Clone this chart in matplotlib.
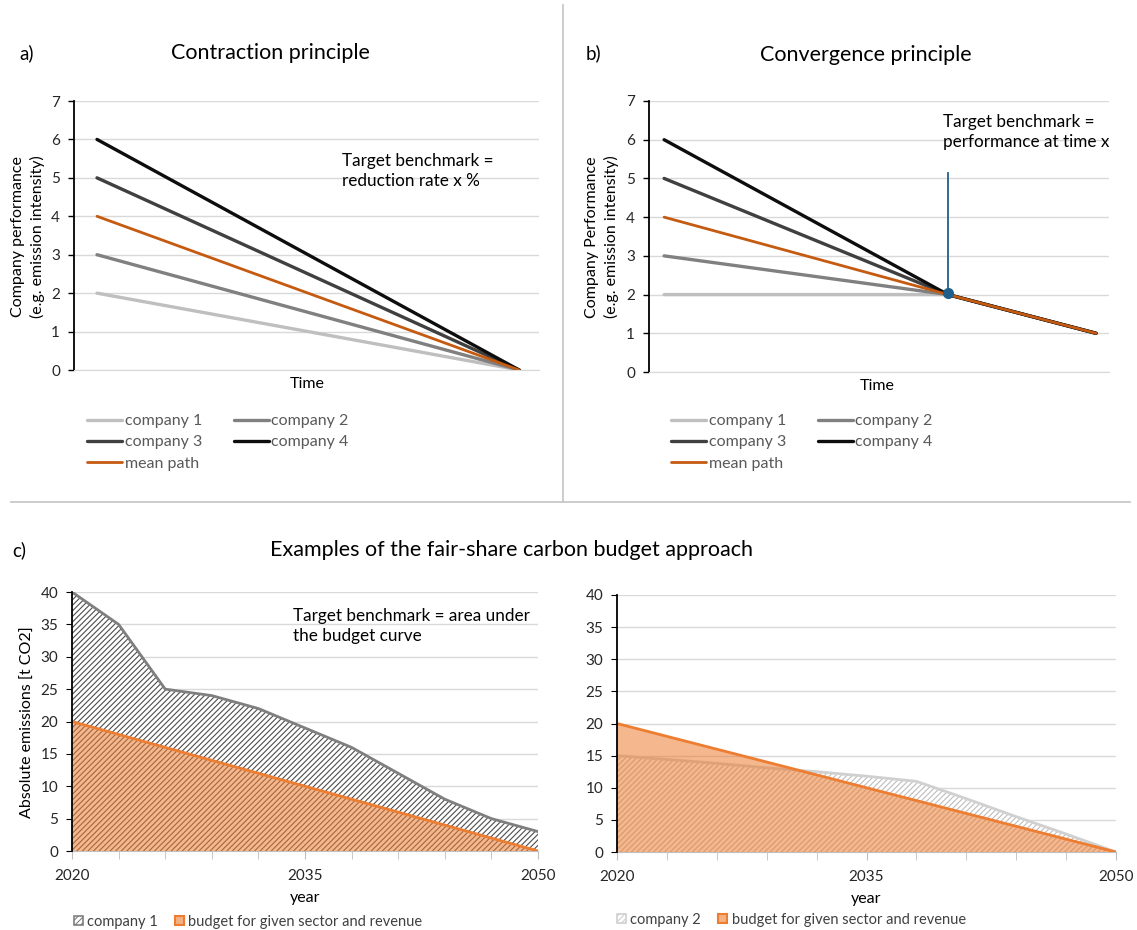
import matplotlib
matplotlib.use('Agg')
import numpy as np
import matplotlib.pyplot as plt
from matplotlib.lines import Line2D
from matplotlib.patches import Patch

plt.rcParams['font.family'] = ['Lato', 'DejaVu Sans']
plt.rcParams['hatch.linewidth'] = 0.8

# a) contraction principle
time_a = [0, 1]
comp1_a = [2, 0]
comp2_a = [3, 0]
comp3_a = [5, 0]
comp4_a = [6, 0]
mean_a = [4, 0]

# b) convergence principle
time_b = [0, 0.657, 1]
comp1_b = [2, 2, 1]
comp2_b = [3, 2, 1]
comp3_b = [5, 2, 1]
comp4_b = [6, 2, 1]
mean_b = [4, 2, 1]
bench_t = 0.657
bench_val = 2.05
bench_top = 5.15

# c) carbon budget
years = [2020, 2023, 2026, 2029, 2032, 2035, 2038, 2041, 2044, 2047, 2050]
company1_c = [40, 35, 25, 24, 22, 19, 16, 12, 8, 5, 3]
company2_c = [15, 14.4, 13.8, 13.1, 12.5, 11.8, 11, 8.3, 5.5, 2.8, 0]
budget_c = [20, 18, 16, 14, 12, 10, 8, 6, 4, 2, 0]

labels = ['company 1', 'company 2', 'company 3', 'company 4', 'mean path']
colors = ['#bfbfbf', '#808080', '#404040', '#0d0d0d', '#c55a11']

W, H = 1137, 930
fig = plt.figure(figsize=(W / 100, H / 100), dpi=100)


def axes_px(l, t, r, b):
    return fig.add_axes([l / W, 1 - b / H, (r - l) / W, (b - t) / H])


def ftext(x, y, s, **kw):
    fig.text(x / W, 1 - y / H, s, **kw)


def style_line_axes(ax):
    ax.set_ylim(0, 7)
    ax.set_yticks(range(8))
    ax.set_xticks([])
    ax.grid(axis='y', color='#d9d9d9', lw=1)
    ax.set_axisbelow(True)
    for s in ['top', 'right']:
        ax.spines[s].set_visible(False)
    ax.spines['bottom'].set_color('#d9d9d9')
    ax.spines['left'].set_color('black')
    ax.spines['left'].set_linewidth(1.3)
    ax.tick_params(axis='y', direction='out', length=4, width=1, labelsize=11,
                   labelcolor='#262626', pad=6)


def line_legend(ax, hs, x0):
    order = [0, 2, 4, 1, 3]
    ax.legend([hs[i] for i in order], [labels[i] for i in order], ncol=2,
              loc='upper left', bbox_to_anchor=(x0 / W, 1 - 414 / H),
              bbox_transform=fig.transFigure, frameon=False, fontsize=11.5,
              labelcolor='#595959', handlelength=2.2, handletextpad=0.15,
              columnspacing=2.0, labelspacing=0.44, borderpad=0, borderaxespad=0)


# ---------- panel a ----------
ax = axes_px(74, 101, 539, 370)
series_a = [comp1_a, comp2_a, comp3_a, comp4_a, mean_a]
hs = []
for ys, c, lab in zip(series_a, colors, labels):
    h, = ax.plot(time_a, ys, color=c, lw=2.4 if lab != 'mean path' else 2.0,
                 label=lab, solid_capstyle='round')
    hs.append(h)
ax.set_xlim(-0.0545, 1.047)
style_line_axes(ax)
line_legend(ax, hs, 87)

ftext(19, 53, 'a)', fontsize=13.5, va='center')
ftext(270, 53, 'Contraction principle', fontsize=15.5, ha='center', va='center')
ftext(342, 171, 'Target benchmark =\nreduction rate x %', fontsize=12.3,
      va='center', linespacing=1.3)
ftext(307, 384, 'Time', fontsize=11.5, ha='center', va='center')
ftext(28, 237, 'Company performance\n(e.g. emission intensity)', fontsize=11.5,
      rotation=90, ha='center', va='center', linespacing=1.35)

# ---------- panel b ----------
ax = axes_px(649, 101, 1109, 372)
series_b = [comp1_b, comp2_b, comp3_b, comp4_b, mean_b]
hs = []
for ys, c, lab in zip(series_b, colors, labels):
    h, = ax.plot(time_b, ys, color=c, lw=2.4 if lab != 'mean path' else 2.0,
                 label=lab, solid_capstyle='round')
    hs.append(h)
ax.plot([bench_t, bench_t], [bench_val, bench_top], color='#1f5f8b', lw=1.3)
ax.plot([bench_t], [bench_val], 'o', color='#1f5f8b', ms=7, zorder=5)
ax.set_xlim(-0.035, 1.030)
style_line_axes(ax)
line_legend(ax, hs, 671)

ftext(586, 53, 'b)', fontsize=13.5, va='center')
ftext(866, 55, 'Convergence principle', fontsize=15.5, ha='center', va='center')
ftext(943, 132, 'Target benchmark =\nperformance at time x', fontsize=12.3,
      va='center', linespacing=1.3)
ftext(877, 386, 'Time', fontsize=11.5, ha='center', va='center')
ftext(602, 237, 'Company Performance\n(e.g. emission intensity)', fontsize=11.5,
      rotation=90, ha='center', va='center', linespacing=1.35)

# ---------- panel c ----------
ftext(12, 550, 'c)', fontsize=13.5, va='center')
ftext(512, 550, 'Examples of the fair-share carbon budget approach', fontsize=15.5,
      ha='center', va='center')


def style_budget_axes(ax):
    ax.set_xlim(2020, 2050)
    ax.set_ylim(0, 40)
    ax.set_yticks(range(0, 41, 5))
    ax.set_xticks([2020, 2035, 2050])
    ax.set_xticks(years, minor=True)
    ax.grid(axis='y', color='#d9d9d9', lw=1)
    ax.set_axisbelow(True)
    for s in ['top', 'right']:
        ax.spines[s].set_visible(False)
    ax.spines['bottom'].set_color('#bfbfbf')
    ax.spines['left'].set_color('black')
    ax.spines['left'].set_linewidth(1.3)
    ax.spines['left'].set_zorder(6)
    ax.tick_params(axis='y', direction='out', length=4, labelsize=11,
                   labelcolor='#262626', pad=6)
    ax.tick_params(axis='x', which='both', direction='out', length=6,
                   color='#bfbfbf', labelsize=11, labelcolor='#262626', pad=7)
    ax.set_xlabel('year', fontsize=11.5, labelpad=6)


def draw_budget(ax, comp, hatch_col, line_col):
    ax.fill_between(years, comp, facecolor='white', edgecolor=hatch_col,
                    hatch='//////', lw=0, zorder=2)
    ax.plot(years, comp, color=line_col, lw=2, zorder=3)
    ax.fill_between(years, budget_c, facecolor='#ed7d31', alpha=0.55, lw=0, zorder=4)
    ax.plot(years, budget_c, color='#ed7d31', lw=2, zorder=5)
    handles = [Patch(facecolor='white', edgecolor=line_col, hatch='//////', lw=1.2),
               Patch(facecolor='#f4b183', edgecolor='#ed7d31', lw=1.5)]
    return handles


ax = axes_px(72, 592, 538, 851)
hdl = draw_budget(ax, company1_c, '#4d4d4d', '#7f7f7f')
style_budget_axes(ax)
ax.legend(hdl, ['company 1', 'budget for given sector and revenue'], ncol=2,
          loc='center left', bbox_to_anchor=(74 / W, 1 - 922 / H),
          bbox_transform=fig.transFigure, frameon=False, fontsize=10.5,
          labelcolor='#404040', handlelength=0.6, handleheight=0.6,
          handletextpad=0.3, columnspacing=1.2, borderpad=0, borderaxespad=0)
ftext(293, 626, 'Target benchmark = area under\nthe budget curve', fontsize=12.3,
      va='center', linespacing=1.3)
ftext(28, 722, 'Absolute emissions [t CO2]', fontsize=11.5, rotation=90,
      ha='center', va='center')

ax = axes_px(617, 595, 1116, 852)
hdl = draw_budget(ax, company2_c, '#bdbdbd', '#d0d0d0')
style_budget_axes(ax)
ax.legend(hdl, ['company 2', 'budget for given sector and revenue'], ncol=2,
          loc='center left', bbox_to_anchor=(617 / W, 1 - 920 / H),
          bbox_transform=fig.transFigure, frameon=False, fontsize=10.5,
          labelcolor='#404040', handlelength=0.6, handleheight=0.6,
          handletextpad=0.3, columnspacing=1.2, borderpad=0, borderaxespad=0)

# separators
fig.add_artist(Line2D([563 / W, 563 / W], [1 - 5 / H, 1 - 502 / H],
                      transform=fig.transFigure, color='#c8c8c8', lw=1.3))
fig.add_artist(Line2D([11 / W, 1130 / W], [1 - 502 / H, 1 - 502 / H],
                      transform=fig.transFigure, color='#c8c8c8', lw=1.3))

plt.savefig('out.png', dpi=100, facecolor='white')
